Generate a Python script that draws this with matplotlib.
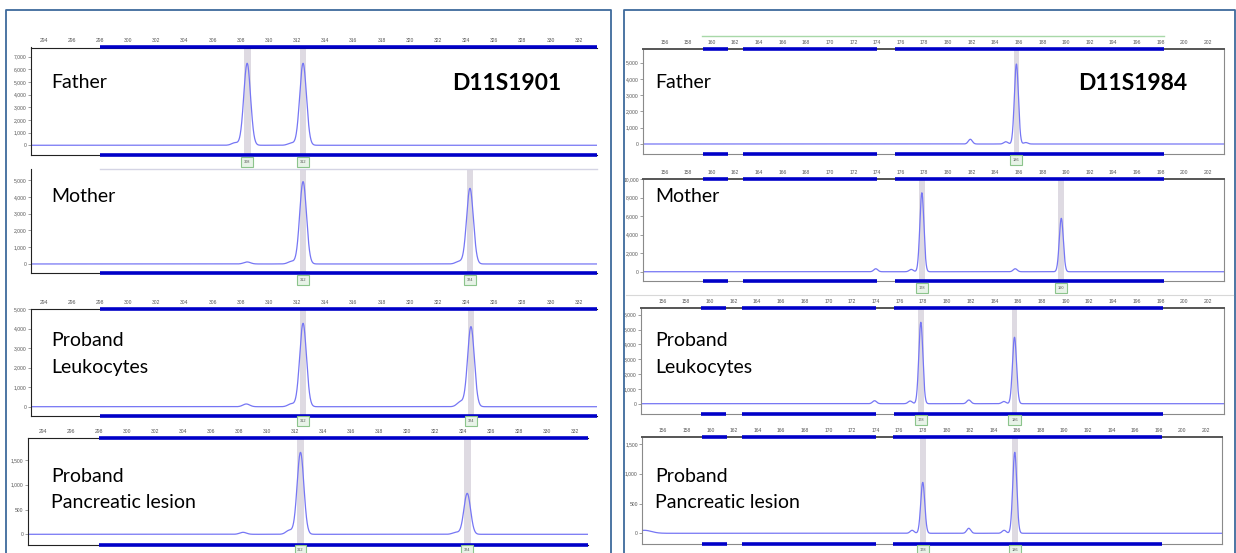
import matplotlib.pyplot as plt
import numpy as np
from matplotlib.transforms import blended_transform_factory

W, H = 1236, 553

# ---- D11S1901 (left panel) ----
left_ticks = list(range(294, 334, 2))
left_bars = [(298.0, 333.3)]

f1901_pos = [307.6, 308.46, 311.6, 312.43]
f1901_hgt = [200, 6480, 180, 6480]
f1901_call_lbl = ['308', '312']
f1901_call_pos = [308.46, 312.43]

m1901_pos = [308.46, 311.6, 312.43, 323.5, 324.28]
m1901_hgt = [120, 150, 4920, 150, 4520]
m1901_call_lbl = ['312', '324']
m1901_call_pos = [312.43, 324.28]

l1901_pos = [308.4, 311.6, 312.43, 323.6, 324.35]
l1901_hgt = [140, 150, 4280, 250, 4110]
l1901_call_lbl = ['312', '324']
l1901_call_pos = [312.43, 324.35]

p1901_pos = [308.3, 311.6, 312.4, 323.5, 324.3]
p1901_hgt = [40, 80, 1653, 40, 826]
p1901_call_lbl = ['312', '324']
p1901_call_pos = [312.4, 324.3]

# ---- D11S1984 (right panel) ----
right_ticks = list(range(156, 204, 2))
right_bars = [(159.3, 161.4), (162.7, 174.0), (175.5, 198.25)]

f1984_pos = [181.9, 184.9, 185.8, 186.6]
f1984_hgt = [290, 140, 4920, 90]
f1984_call_lbl = ['186']
f1984_call_pos = [185.8]

m1984_pos = [173.9, 176.9, 177.8, 185.7, 189.6]
m1984_hgt = [320, 250, 8520, 320, 5760]
m1984_call_lbl = ['178', '190']
m1984_call_pos = [177.8, 189.6]

l1984_pos = [173.9, 176.9, 177.8, 181.85, 184.8, 185.7]
l1984_hgt = [200, 180, 5490, 250, 150, 4480]
l1984_call_lbl = ['178', '186']
l1984_call_pos = [177.8, 185.7]

p1984_pos = [154.4, 177.1, 178.0, 181.9, 184.9, 185.8]
p1984_hgt = [50, 50, 855, 84, 50, 1360]
p1984_call_lbl = ['178', '186']
p1984_call_pos = [178.0, 185.8]

TRACE = '#7676F4'
BAR = '#0000C8'
BAND = '#DEDAE2'

fig = plt.figure(figsize=(W / 100, H / 100), dpi=100)


def px_box(x0, y0, x1, y1):
    return [x0 / W, 1 - y1 / H, (x1 - x0) / W, (y1 - y0) / H]


def draw_trace(box, xlim, ylim, yticks, xticks, pos, hgt, sigma,
               call_lbl, call_pos, call_y, bars, side, top_labels=True):
    ax = fig.add_axes(px_box(*box))
    ax.set_xlim(xlim)
    ax.set_ylim(ylim)

    x = np.linspace(xlim[0], xlim[1], 3000)
    y = np.zeros_like(x)
    for p, h in zip(pos, hgt):
        w = 0.6 if p < xlim[0] + 1 else sigma
        y += h * np.exp(-0.5 * ((x - p) / w) ** 2)

    for c in call_pos:
        ax.axvspan(c - 0.24, c + 0.24, color=BAND, lw=0, zorder=0)
    ax.plot(x, y, color=TRACE, lw=0.9, zorder=2)

    ax.set_yticks(yticks)
    ax.set_yticklabels([f'{v:,}' for v in yticks], family='Liberation Sans')
    ax.tick_params(axis='y', length=2, width=0.5, labelsize=3.6, pad=1,
                   color='#777777', labelcolor='#555555')

    ax.xaxis.tick_top()
    ax.set_xticks(xticks)
    if top_labels:
        ax.set_xticklabels([str(t) for t in xticks], family='Liberation Sans')
    else:
        ax.set_xticklabels([])
    ax.tick_params(axis='x', length=0, labelsize=3.6, pad=3,
                   labelcolor='#555555')

    if side == 'left':
        ax.spines['right'].set_visible(False)
        for s in ['left', 'top', 'bottom']:
            ax.spines[s].set_color('#222222')
            ax.spines[s].set_linewidth(0.8)
        if not top_labels:
            ax.spines['top'].set_visible(False)
            ax.plot([bars[0][0], xlim[1]], [ylim[1]] * 2, color='#D4D4E4',
                    lw=1.0, clip_on=False)
    else:
        for s in ['left', 'right', 'bottom']:
            ax.spines[s].set_color('#8A8A8A')
            ax.spines[s].set_linewidth(0.8)
        ax.spines['top'].set_color('#555555')
        ax.spines['top'].set_linewidth(1.4)

    for a, b in bars:
        if top_labels:
            ax.plot([a, b], [ylim[1]] * 2, color=BAR, lw=2.6, clip_on=False,
                    solid_capstyle='butt', zorder=3)
        ax.plot([a, b], [ylim[0]] * 2, color=BAR, lw=2.6, clip_on=False,
                solid_capstyle='butt', zorder=3)

    tr = blended_transform_factory(ax.transData, fig.transFigure)
    for lbl, c in zip(call_lbl, call_pos):
        ax.text(c, 1 - call_y / H, lbl, transform=tr, ha='center',
                va='center', fontsize=2.8, color='#555555',
                family='Liberation Sans',
                bbox=dict(boxstyle='square,pad=0.7', fc='#E8F3E8',
                          ec='#8CC48C', lw=0.8))
    return ax


# left panel
lx = (293.1, 333.3)
draw_trace((30.8, 47.5, 597, 155), lx, (-770, 7730), range(0, 7001, 1000),
           left_ticks, f1901_pos, f1901_hgt, 0.24,
           f1901_call_lbl, f1901_call_pos, 162, left_bars, 'left')
draw_trace((30.8, 169, 597, 273), lx, (-540, 5675), range(0, 5001, 1000),
           left_ticks, m1901_pos, m1901_hgt, 0.24,
           m1901_call_lbl, m1901_call_pos, 280, left_bars, 'left',
           top_labels=False)
draw_trace((30.8, 309.3, 597, 415.7), lx, (-462, 5000), range(0, 5001, 1000),
           left_ticks, l1901_pos, l1901_hgt, 0.24,
           l1901_call_lbl, l1901_call_pos, 421, left_bars, 'left')
draw_trace((27.7, 438, 587.7, 545), (292.93, 332.9), (-216, 1943),
           range(0, 1501, 500), left_ticks, p1901_pos, p1901_hgt, 0.24,
           p1901_call_lbl, p1901_call_pos, 550, [(298.0, 332.9)], 'left')

# right panel
rx = (154.2, 203.37)
ax_rf = draw_trace((643, 49.3, 1224, 154), rx, (-615, 5824),
                   range(0, 5001, 1000), right_ticks, f1984_pos, f1984_hgt,
                   0.17, f1984_call_lbl, f1984_call_pos, 160, right_bars,
                   'right')
tr = blended_transform_factory(ax_rf.transData, fig.transFigure)
ax_rf.plot([159.2, 198.3], [1 - 36 / H] * 2, color='#A8D8A8', lw=1.0,
           transform=tr, clip_on=False)
draw_trace((643, 179, 1224, 281), rx, (-1000, 10000), range(0, 10001, 2000),
           right_ticks, m1984_pos, m1984_hgt, 0.17,
           m1984_call_lbl, m1984_call_pos, 288, right_bars, 'right')
draw_trace((641, 308.3, 1224, 414.3), rx, (-715, 6431), range(0, 6001, 1000),
           right_ticks, l1984_pos, l1984_hgt, 0.17,
           l1984_call_lbl, l1984_call_pos, 420, right_bars, 'right')
draw_trace((642, 436.7, 1222, 544), rx, (-180, 1622), range(0, 1501, 500),
           right_ticks, p1984_pos, p1984_hgt, 0.17,
           p1984_call_lbl, p1984_call_pos, 550, right_bars, 'right')

# panel frames and separator
frame = '#3E6A9C'
for x0, x1 in [(6, 610.7), (624, 1235)]:
    fig.add_artist(plt.Line2D([x0 / W, x0 / W, x1 / W, x1 / W],
                              [0, 1 - 10 / H, 1 - 10 / H, 0],
                              color=frame, lw=1.3))
fig.add_artist(plt.Line2D([626 / W, 1233 / W], [1 - 295 / H] * 2,
                          color='#D8D8D8', lw=0.8))

# labels
font = 'Lato'
for x0 in (51, 655):
    fig.text(x0 / W, 1 - 83 / H, 'Father', fontsize=14, family=font, va='center')
    fig.text(x0 / W, 1 - 197 / H, 'Mother', fontsize=14, family=font, va='center')
    fig.text(x0 / W, 1 - 340 / H, 'Proband', fontsize=14, family=font, va='center')
    fig.text(x0 / W, 1 - 367 / H, 'Leukocytes', fontsize=14, family=font, va='center')
    fig.text(x0 / W, 1 - 476 / H, 'Proband', fontsize=14, family=font, va='center')
    fig.text(x0 / W, 1 - 502 / H, 'Pancreatic lesion', fontsize=14, family=font,
             va='center')
fig.text(452 / W, 1 - 83 / H, 'D11S1901', fontsize=16.5, family=font,
         weight='bold', va='center')
fig.text(1078 / W, 1 - 83 / H, 'D11S1984', fontsize=16.5, family=font,
         weight='bold', va='center')

fig.savefig('out.png', dpi=100)
